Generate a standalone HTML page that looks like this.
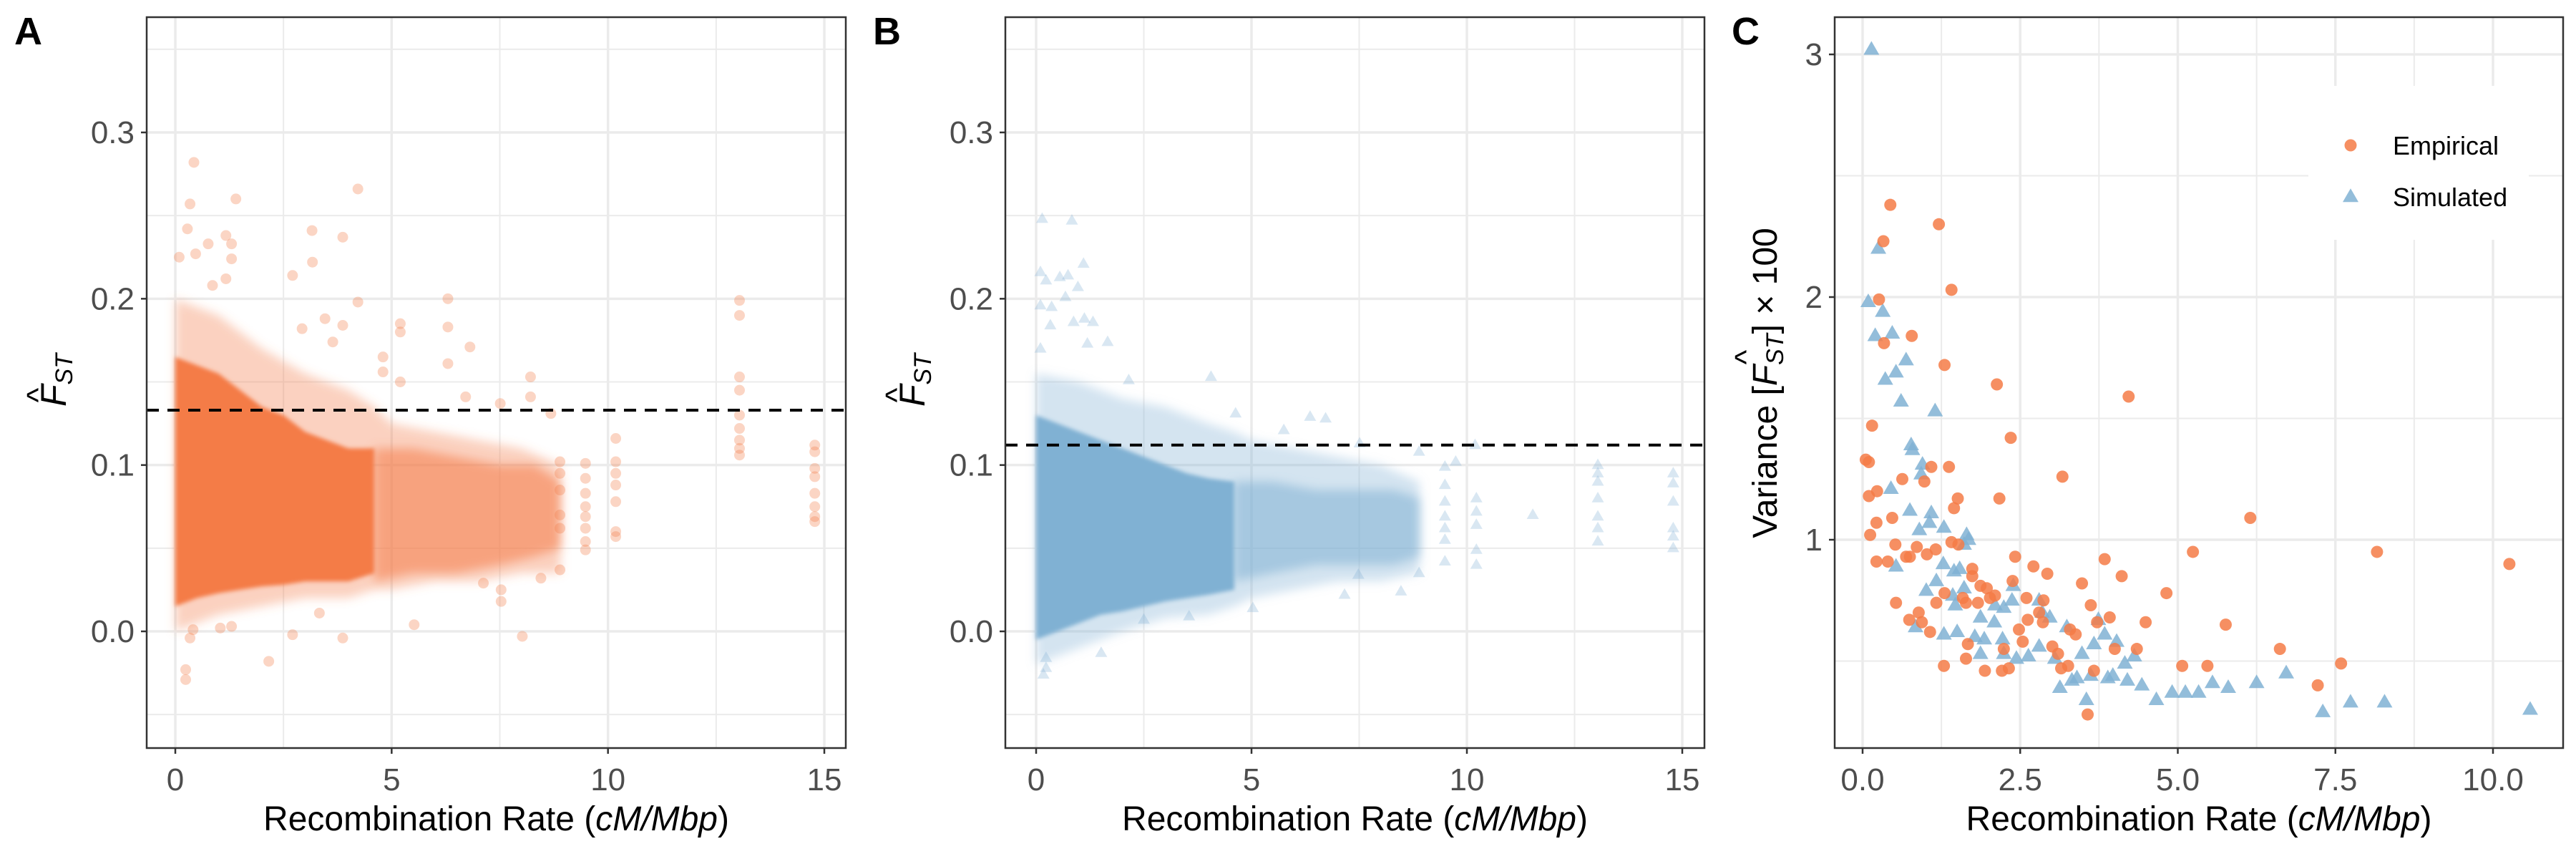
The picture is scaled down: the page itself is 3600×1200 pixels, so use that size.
<!DOCTYPE html>
<html><head><meta charset="utf-8"><style>
html,body{margin:0;padding:0;background:#fff;}
svg{display:block;font-family:"Liberation Sans",sans-serif;}
</style></head><body>
<svg id="fig" width="3600" height="1200" viewBox="0 0 3600 1200" xmlns="http://www.w3.org/2000/svg">
<defs>
<filter id="soft" x="-10%" y="-10%" width="120%" height="120%"><feGaussianBlur stdDeviation="7"/></filter>
<filter id="soft2" x="-10%" y="-10%" width="120%" height="120%"><feGaussianBlur stdDeviation="3"/></filter>
</defs>
</svg>
<script>
// ---------- Panel A data (empirical F_ST vs recombination rate) ----------
const aThreshold = 0.133;
const aCoreX  = [0,0.5,1,1.5,2,2.5,3,3.5,4,4.6];
const aCoreLo = [0.015,0.02,0.023,0.025,0.027,0.028,0.03,0.03,0.03,0.035];
const aCoreHi = [0.165,0.16,0.155,0.145,0.135,0.13,0.12,0.115,0.11,0.11];
const aFringeX  = [0,1,2,3,4,4.6,5,6,7,8,8.9];
const aFringeLo = [0.0,0.01,0.015,0.02,0.02,0.025,0.025,0.03,0.03,0.035,0.035];
const aFringeHi = [0.2,0.19,0.17,0.155,0.145,0.135,0.125,0.12,0.115,0.11,0.1];
const aMidX  = [4.6,5.5,6.5,7.5,8.3,8.9];
const aMidLo = [0.03,0.035,0.035,0.04,0.045,0.05];
const aMidHi = [0.11,0.11,0.105,0.1,0.1,0.09];
const aPtX = [0.43,1.40,0.34,4.22,3.16,3.87,0.28,0.76,1.17,1.30,3.17,2.71,0.09,0.47,1.30,1.17,0.86,6.30,4.22,13.04,13.04,6.30,5.20,5.20,6.81,2.93,3.46,3.87,3.64,4.80,4.80,5.20,8.21,8.21,13.04,13.04,6.30,6.71,7.51,8.68,10.18,10.18,10.18,10.18,10.18,10.18,10.18,13.04,13.04,13.04,13.04,13.04,14.78,14.78,14.78,14.78,14.78,14.78,14.78,14.78,9.48,9.48,9.48,9.48,9.48,9.48,9.48,9.48,8.89,8.89,8.89,8.89,8.89,8.89,8.45,5.52,8.02,2.71,2.16,0.24,0.24,3.87,7.53,7.12,7.53,0.34,0.41,1.04,1.30,3.33];
const aPtY = [0.282,0.260,0.257,0.266,0.241,0.237,0.242,0.233,0.238,0.233,0.222,0.214,0.225,0.227,0.224,0.212,0.208,0.200,0.198,0.199,0.190,0.183,0.185,0.180,0.171,0.182,0.188,0.184,0.174,0.165,0.156,0.150,0.153,0.141,0.153,0.145,0.161,0.141,0.137,0.131,0.116,0.102,0.095,0.088,0.078,0.060,0.057,0.130,0.122,0.115,0.110,0.106,0.112,0.108,0.098,0.093,0.083,0.075,0.069,0.066,0.101,0.092,0.083,0.075,0.069,0.062,0.054,0.049,0.102,0.095,0.085,0.070,0.062,0.037,0.032,0.004,-0.003,-0.002,-0.018,-0.023,-0.029,-0.004,0.018,0.029,0.025,-0.004,0.001,0.002,0.003,0.011];

// ---------- Panel B data (simulated) ----------
const bThreshold = 0.112;
const bCoreX  = [0,0.5,1,1.5,2,2.5,3,3.5,4,4.6];
const bCoreLo = [-0.005,0.0,0.005,0.01,0.012,0.015,0.018,0.02,0.022,0.025];
const bCoreHi = [0.13,0.125,0.12,0.115,0.11,0.105,0.1,0.095,0.092,0.09];
const bFringeX  = [0,1,2,3,4,4.6,5,6,7,8,8.9];
const bFringeLo = [-0.02,-0.01,0.0,0.008,0.01,0.015,0.02,0.025,0.03,0.03,0.035];
const bFringeHi = [0.155,0.15,0.14,0.135,0.125,0.12,0.115,0.11,0.105,0.1,0.09];
const bMidX  = [4.6,5.5,6.5,7.5,8.3,8.9];
const bMidLo = [0.03,0.035,0.04,0.04,0.04,0.045];
const bMidHi = [0.09,0.09,0.085,0.085,0.085,0.08];
const bPtX = [0.14,0.83,1.10,0.10,0.23,0.55,0.74,0.97,0.68,0.10,0.36,1.12,0.87,1.32,0.33,1.66,1.19,0.10,4.06,2.15,4.63,6.36,6.72,5.75,7.51,9.74,9.49,10.19,8.89,11.53,13.04,13.04,13.04,13.04,13.04,13.04,13.04,14.79,14.79,14.79,14.79,14.79,14.79,10.22,10.22,10.22,10.22,10.22,9.49,9.49,9.49,9.49,9.49,9.49,8.47,7.16,5.03,1.51,0.23,0.23,0.17,3.55,2.50,8.89,7.48];
const bPtY = [0.248,0.247,0.221,0.216,0.211,0.213,0.214,0.207,0.201,0.196,0.195,0.188,0.186,0.186,0.184,0.174,0.173,0.170,0.153,0.151,0.131,0.129,0.128,0.121,0.113,0.102,0.099,0.112,0.108,0.070,0.100,0.095,0.090,0.080,0.069,0.062,0.054,0.095,0.089,0.078,0.062,0.057,0.050,0.080,0.072,0.064,0.049,0.040,0.088,0.078,0.069,0.062,0.055,0.042,0.024,0.022,0.014,-0.013,-0.016,-0.022,-0.026,0.009,0.007,0.035,0.034];

// ---------- Panel C data (variance x100) ----------
const empX = [0.44,1.21,0.33,1.41,0.26,0.78,0.34,1.30,2.13,4.22,0.15,2.35,0.05,0.10,1.37,1.09,3.17,0.63,0.98,0.23,0.10,2.17,1.51,1.45,6.15,0.22,0.47,0.12,0.52,0.86,1.16,1.52,1.41,1.02,5.24,8.16,10.26,0.22,0.40,0.69,0.75,2.42,3.84,2.71,2.93,1.74,1.74,4.11,2.38,3.48,1.87,1.97,4.82,1.30,2.10,2.60,2.02,1.59,0.53,1.17,1.64,2.87,1.83,3.62,0.89,2.80,3.92,0.74,2.62,2.86,3.72,4.49,5.76,0.94,1.07,2.48,3.29,3.38,2.54,1.67,2.24,3.01,4.00,4.35,3.10,6.62,1.64,5.07,5.47,7.59,3.26,1.29,3.15,1.94,2.21,2.32,3.67,7.22,3.57];
const empY = [2.38,2.30,2.23,2.03,1.99,1.84,1.81,1.72,1.64,1.59,1.47,1.42,1.33,1.32,1.30,1.30,1.26,1.25,1.24,1.20,1.18,1.17,1.17,1.13,1.09,1.07,1.09,1.02,0.98,0.97,0.96,0.98,0.99,0.94,0.95,0.95,0.90,0.91,0.91,0.93,0.93,0.93,0.92,0.89,0.86,0.88,0.85,0.85,0.83,0.82,0.81,0.80,0.78,0.78,0.77,0.76,0.76,0.76,0.74,0.74,0.74,0.75,0.74,0.73,0.70,0.70,0.68,0.67,0.67,0.66,0.66,0.66,0.65,0.66,0.62,0.63,0.63,0.61,0.58,0.57,0.55,0.56,0.55,0.55,0.53,0.55,0.51,0.48,0.48,0.49,0.48,0.48,0.47,0.46,0.46,0.47,0.46,0.40,0.28];
const simX = [0.14,0.25,0.09,0.32,0.20,0.47,0.69,0.53,0.36,0.61,1.15,0.77,0.79,0.95,0.93,0.45,0.75,1.09,1.06,0.90,1.29,1.65,1.68,1.61,0.53,1.28,1.45,1.54,1.17,1.01,1.61,1.43,1.47,2.39,2.37,2.80,2.10,2.24,1.87,2.09,2.85,2.97,3.24,3.74,3.84,4.03,0.84,1.29,1.50,1.78,1.93,1.87,2.22,2.24,2.44,2.63,2.80,3.05,3.48,3.67,4.16,4.31,3.13,3.32,3.40,3.62,3.89,3.97,4.20,4.43,3.55,4.66,4.91,5.12,5.33,5.55,5.80,6.25,6.72,7.30,7.74,8.28,10.59];
const simY = [3.02,2.20,1.98,1.94,1.84,1.85,1.74,1.69,1.66,1.57,1.53,1.39,1.37,1.31,1.27,1.21,1.12,1.11,1.07,1.04,1.05,1.02,1.00,0.98,0.89,0.90,0.87,0.88,0.83,0.79,0.80,0.77,0.73,0.81,0.75,0.75,0.73,0.72,0.68,0.66,0.70,0.68,0.64,0.67,0.61,0.58,0.64,0.61,0.62,0.60,0.59,0.53,0.59,0.53,0.51,0.52,0.56,0.51,0.53,0.57,0.49,0.52,0.39,0.42,0.43,0.44,0.43,0.44,0.42,0.40,0.34,0.34,0.37,0.37,0.37,0.41,0.39,0.41,0.45,0.29,0.33,0.33,0.30];

const abXTicks = [0,5,10,15];
const abXMinor = [2.5,7.5,12.5];
const abYTicks = [0,0.1,0.2,0.3];
const abYTickLabels = ["0.0","0.1","0.2","0.3"];
const abYMinor = [-0.05,0.05,0.15,0.25,0.35];
const cXTicks = [0,2.5,5,7.5,10];
const cXTickLabels = ["0.0","2.5","5.0","7.5","10.0"];
const cXMinor = [1.25,3.75,6.25,8.75];
const cYTicks = [1,2,3];
const cYMinor = [0.5,1.5,2.5];

const NS = "http://www.w3.org/2000/svg";
const svg = document.getElementById("fig");
function el(tag, attrs, parent){
  const e = document.createElementNS(NS, tag);
  for (const k in attrs) e.setAttribute(k, attrs[k]);
  (parent||svg).appendChild(e);
  return e;
}
function lin(d0,d1,r0,r1){ return v => r0 + (v-d0)*(r1-r0)/(d1-d0); }

const ORANGE = "#F47B47", BLUE = "#80B1D3";

function band(g, sx, sy, xs, lo, hi, fill, op, name, filt){
  let pts = [];
  for (let i=0;i<xs.length;i++) pts.push(sx(xs[i])+","+sy(hi[i]));
  for (let i=xs.length-1;i>=0;i--) pts.push(sx(xs[i])+","+sy(lo[i]));
  const p = el("polygon",{points:pts.join(" "),fill:fill,"fill-opacity":op,filter:"url(#"+filt+")"},g);
  
  
}
function tri(g, cx, cy, s, fill, op){
  const h = s*0.866;
  return el("polygon",{points:`${cx},${cy-h*0.62} ${cx-s/2},${cy+h*0.38} ${cx+s/2},${cy+h*0.38}`,fill:fill,"fill-opacity":op},g);
}

function frame(g, L, T, R, B, sx, sy, xMaj, xMin, yMaj, yMin, xLab, yLab){
  for (const v of yMin){ const l=el("line",{x1:L,x2:R,y1:sy(v),y2:sy(v),stroke:"#EBEBEB","stroke-width":2},g);   }
  for (const v of xMin){ const l=el("line",{x1:sx(v),x2:sx(v),y1:T,y2:B,stroke:"#EBEBEB","stroke-width":2},g);   }
  yMaj.forEach((v,i)=>{
    const l=el("line",{x1:L,x2:R,y1:sy(v),y2:sy(v),stroke:"#EBEBEB","stroke-width":3.5},g);
     
    el("line",{x1:L-8,x2:L,y1:sy(v),y2:sy(v),stroke:"#333","stroke-width":2.5},g);
    const t=el("text",{x:L-17,y:sy(v)+15,"text-anchor":"end","font-size":44,fill:"#4D4D4D"},g);
    t.textContent=yLab[i];
     
  });
  xMaj.forEach((v,i)=>{
    const l=el("line",{x1:sx(v),x2:sx(v),y1:T,y2:B,stroke:"#EBEBEB","stroke-width":3.5},g);
     
    el("line",{x1:sx(v),x2:sx(v),y1:B,y2:B+8,stroke:"#333","stroke-width":2.5},g);
    const t=el("text",{x:sx(v),y:B+59,"text-anchor":"middle","font-size":44,fill:"#4D4D4D"},g);
    t.textContent=xLab[i];
     
  });
}
function border(g,L,T,R,B){
  const r=el("rect",{x:L,y:T,width:R-L,height:B-T,fill:"none",stroke:"#333","stroke-width":2.5},g);
   
}
function xTitle(g, cx){
  const t=el("text",{x:cx,y:1160,"text-anchor":"middle","font-size":48,fill:"#000"},g);
   
  t.appendChild(document.createTextNode("Recombination Rate ("));
  const i=el("tspan",{"font-style":"italic"},t); i.textContent="cM/Mbp";
  t.appendChild(document.createTextNode(")"));
}
function fstTitle(g, x, cy){
  const gg=el("g",{transform:`translate(${x},${cy}) rotate(-90)`},g);
   
  const t=el("text",{x:-38,y:0,"font-size":50,"font-style":"italic",fill:"#000"},gg);
  t.appendChild(document.createTextNode("F"));
  const s=el("tspan",{"font-size":34,dy:9},t); s.textContent="ST";
  const h=el("text",{x:-22,y:-24,"font-size":44,"text-anchor":"middle",fill:"#000"},gg); h.textContent="^";
}
function letter(x, txt){
  const t=el("text",{x:x,y:62,"font-size":54,"font-weight":"bold",fill:"#000"});
  t.textContent=txt;
   
}

// ---------- Panel A ----------
(function(){
  const L=205,T=24,R=1182,B=1045;
  const sx=lin(0,15,245,1152), sy=lin(0,0.3,882,185);
  const g=el("g",{});  
  frame(g,L,T,R,B,sx,sy,abXTicks,abXMinor,abYTicks,abYMinor,abXTicks.map(String),abYTickLabels);
  band(g,sx,sy,aFringeX,aFringeLo,aFringeHi,ORANGE,0.35,'fringe-cloud','soft');
  band(g,sx,sy,aMidX,aMidLo,aMidHi,ORANGE,0.55,'mid-cloud','soft');
  band(g,sx,sy,aCoreX,aCoreLo,aCoreHi,ORANGE,1,'dense-cloud','soft2');
  for (let i=0;i<aPtX.length;i++){
    const c=el("circle",{cx:sx(aPtX[i]),cy:sy(aPtY[i]),r:7.5,fill:ORANGE,"fill-opacity":0.32},g);
     
  }
  const d=el("line",{x1:L,x2:R,y1:sy(aThreshold),y2:sy(aThreshold),stroke:"#000","stroke-width":4,"stroke-dasharray":"17 12"},g);
   
  border(g,L,T,R,B);
  xTitle(g,(L+R)/2);
  fstTitle(g,92,530);
  letter(20,"A");
})();

// ---------- Panel B ----------
(function(){
  const L=1405,T=24,R=2382,B=1045;
  const sx=lin(0,15,1448,2351), sy=lin(0,0.3,882,185);
  const g=el("g",{});  
  frame(g,L,T,R,B,sx,sy,abXTicks,abXMinor,abYTicks,abYMinor,abXTicks.map(String),abYTickLabels);
  band(g,sx,sy,bFringeX,bFringeLo,bFringeHi,BLUE,0.35,'fringe-cloud','soft');
  band(g,sx,sy,bMidX,bMidLo,bMidHi,BLUE,0.55,'mid-cloud','soft');
  band(g,sx,sy,bCoreX,bCoreLo,bCoreHi,BLUE,1,'dense-cloud','soft2');
  for (let i=0;i<bPtX.length;i++){
    const p=tri(g,sx(bPtX[i]),sy(bPtY[i]),17,BLUE,0.3);
     
  }
  const d=el("line",{x1:L,x2:R,y1:sy(bThreshold),y2:sy(bThreshold),stroke:"#000","stroke-width":4,"stroke-dasharray":"17 12"},g);
   
  border(g,L,T,R,B);
  xTitle(g,(L+R)/2);
  fstTitle(g,1292,530);
  letter(1220,"B");
})();

// ---------- Panel C ----------
(function(){
  const L=2564,T=24,R=3582,B=1045;
  const sx=lin(0,10,2603,3484), sy=lin(1,3,754,76);
  const g=el("g",{});  
  frame(g,L,T,R,B,sx,sy,cXTicks,cXMinor,cYTicks,cYMinor,cXTickLabels,cYTicks.map(String));
  for (let i=0;i<simX.length;i++){
    const p=tri(g,sx(simX[i]),sy(simY[i]),22,BLUE,0.85);
     
  }
  for (let i=0;i<empX.length;i++){
    const c=el("circle",{cx:sx(empX[i]),cy:sy(empY[i]),r:8.5,fill:ORANGE,"fill-opacity":0.85},g);
     
  }
  const lg=el("g",{},g);  
  el("rect",{x:3226,y:120,width:308,height:215,fill:"#fff"},lg);
  const e1=el("g",{},lg);  
  el("circle",{cx:3285,cy:203,r:8.5,fill:ORANGE,"fill-opacity":0.85},e1);
  const t1=el("text",{x:3344,y:216,"font-size":36,fill:"#000"},e1); t1.textContent="Empirical";
  const e2=el("g",{},lg);  
  tri(e2,3285,275,22,BLUE,0.85);
  const t2=el("text",{x:3344,y:288,"font-size":36,fill:"#000"},e2); t2.textContent="Simulated";
  border(g,L,T,R,B);
  xTitle(g,(L+R)/2);
  const gg=el("g",{transform:"translate(2483,535) rotate(-90)"},g);
   
  const t=el("text",{x:0,y:0,"text-anchor":"middle","font-size":48,fill:"#000"},gg);
  t.appendChild(document.createTextNode("Variance ["));
  const f=el("tspan",{"font-style":"italic"},t); f.textContent="F";
  const s=el("tspan",{"font-style":"italic","font-size":34,dy:9},t); s.textContent="ST";
  const r=el("tspan",{dy:-9},t); r.textContent="] × 100";
  const h=el("text",{x:36,y:-28,"font-size":44,"text-anchor":"middle",fill:"#000"},gg); h.textContent="^";
  letter(2420,"C");
})();
</script>
</body></html>
